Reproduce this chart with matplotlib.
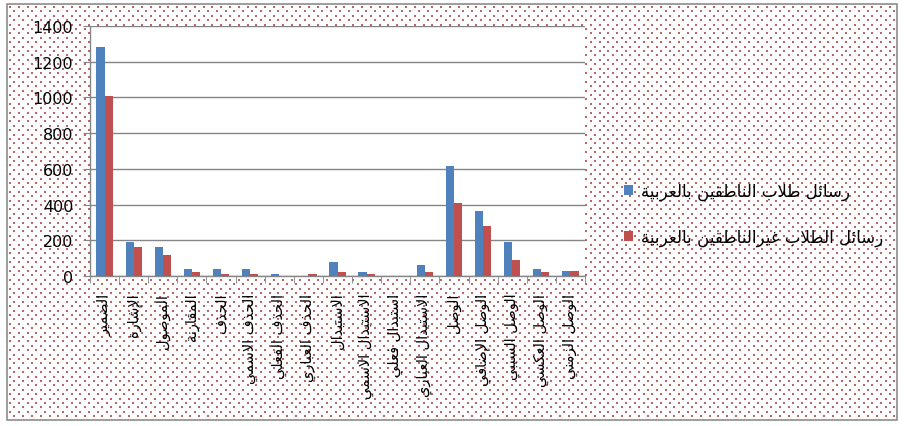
import matplotlib.pyplot as plt
import numpy as np
from matplotlib.patches import Rectangle

categories = [
    "الضمير", "الإشارة", "الموصول", "المقارنة", "الحذف",
    "الحذف الاسمي", "الحذف الفعلي", "الحذف العباري", "الاستبدال",
    "الاستبدال الاسمي", "استبدال فعلي", "الاستبدال العباري", "الوصل",
    "الوصل الإضافي", "الوصل السببي", "الوصل العكسي", "الوصل الزمني",
]
native = [1285, 190, 165, 40, 40, 40, 10, 0, 80, 20, 0, 60, 615, 365, 190, 40, 30]
non_native = [1010, 165, 115, 20, 10, 10, 0, 10, 20, 10, 0, 20, 410, 280, 90, 20, 30]
series_names = ["رسائل طلاب الناطقين بالعربية", "رسائل الطلاب غيرالناطقين بالعربية"]
y_ticks = [0, 200, 400, 600, 800, 1000, 1200, 1400]

# --- minimal Arabic shaping (matplotlib has no complex text layout) ---
DUAL = {0x0626: 0xFE89, 0x0628: 0xFE8F, 0x062A: 0xFE95, 0x062B: 0xFE99,
        0x062C: 0xFE9D, 0x062D: 0xFEA1, 0x062E: 0xFEA5, 0x0633: 0xFEB1,
        0x0634: 0xFEB5, 0x0635: 0xFEB9, 0x0636: 0xFEBD, 0x0637: 0xFEC1,
        0x0638: 0xFEC5, 0x0639: 0xFEC9, 0x063A: 0xFECD, 0x0641: 0xFED1,
        0x0642: 0xFED5, 0x0643: 0xFED9, 0x0644: 0xFEDD, 0x0645: 0xFEE1,
        0x0646: 0xFEE5, 0x0647: 0xFEE9, 0x064A: 0xFEF1}
RIGHT = {0x0622: 0xFE81, 0x0623: 0xFE83, 0x0624: 0xFE85, 0x0625: 0xFE87,
         0x0627: 0xFE8D, 0x0629: 0xFE93, 0x062F: 0xFEA9, 0x0630: 0xFEAB,
         0x0631: 0xFEAD, 0x0632: 0xFEAF, 0x0648: 0xFEED, 0x0649: 0xFEEF}
LAM_ALEF = {0x0622: 0xFEF5, 0x0623: 0xFEF7, 0x0625: 0xFEF9, 0x0627: 0xFEFB}


def shape(text):
    cps = [ord(c) for c in text]
    out = []
    i = 0
    while i < len(cps):
        c = cps[i]
        prev_joins = bool(out) and out[-1][1]
        if c == 0x0644 and i + 1 < len(cps) and cps[i + 1] in LAM_ALEF:
            base = LAM_ALEF[cps[i + 1]]
            out.append((chr(base + (1 if prev_joins else 0)), False))
            i += 2
            continue
        nxt = cps[i + 1] if i + 1 < len(cps) else None
        next_joins = nxt in DUAL or nxt in RIGHT
        if c in DUAL:
            base = DUAL[c]
            if prev_joins and next_joins:
                g = base + 3
            elif prev_joins:
                g = base + 1
            elif next_joins:
                g = base + 2
            else:
                g = base
            out.append((chr(g), next_joins))
        elif c in RIGHT:
            out.append((chr(RIGHT[c] + (1 if prev_joins else 0)), False))
        else:
            out.append((chr(c), False))
        i += 1
    return "".join(g for g, _ in out)[::-1]


plt.rcParams.update({"font.family": ["DejaVu Sans"]})

W, H = 905, 427
fig = plt.figure(figsize=(W / 100, H / 100), dpi=100)

# dotted chart-area background (pixel coordinates), drawn behind the plot
bg = fig.add_axes([0, 0, 1, 1], zorder=-5)
bg.set_xlim(0, W)
bg.set_ylim(H, 0)
bg.axis("off")
gx, gy = np.meshgrid(np.arange(10, 897, 8.8), np.arange(8, 420, 4.4))
gx = gx + (np.arange(gx.shape[0])[:, None] % 2) * 4.4
keep = gx < 896
bg.scatter(gx[keep], gy[keep], marker="s", s=1.6, color="#b86868", linewidths=0)
bg.add_patch(Rectangle((7, 5), 890, 416, facecolor="none", edgecolor="#8c8c8c", lw=1.2))

ax = fig.add_axes([90 / W, 150 / H, 495 / W, 250 / H])
ax.set_facecolor("white")

x = np.arange(len(categories))
w = 0.28
ax.bar(x - w / 2, native, width=w, color="#4F81BD", label=shape(series_names[0]), zorder=3)
ax.bar(x + w / 2, non_native, width=w, color="#C0504D", label=shape(series_names[1]), zorder=3)

ax.set_ylim(0, 1400)
ax.set_yticks(y_ticks)
ax.set_yticklabels([str(v) for v in y_ticks], fontsize=11.5)
ax.set_xlim(-0.5, len(categories) - 0.5)
ax.set_xticks(x)
ax.set_xticklabels([shape(c) for c in categories], rotation=90, fontsize=10.5,
                   va="top", ha="center")
ax.set_xticks(np.arange(len(categories) + 1) - 0.5, minor=True)
ax.tick_params(axis="x", which="major", length=0, pad=12)
ax.tick_params(axis="x", which="minor", length=5, color="#868686", direction="out")
ax.tick_params(axis="y", length=5, color="#868686", direction="out", pad=7)

ax.grid(axis="y", color="#868686", lw=1.0, zorder=1)
ax.set_axisbelow(True)
for side in ("top", "right"):
    ax.spines[side].set_visible(False)
for side in ("left", "bottom"):
    ax.spines[side].set_color("#868686")
    ax.spines[side].set_linewidth(1.0)

fig.legend(loc="center left", bbox_to_anchor=(609 / W, 1 - 215 / H), frameon=False,
           fontsize=12, handlelength=0.55, handleheight=0.55, handletextpad=0.45,
           labelspacing=1.7)

fig.savefig("out.png", dpi=100, facecolor="white")
